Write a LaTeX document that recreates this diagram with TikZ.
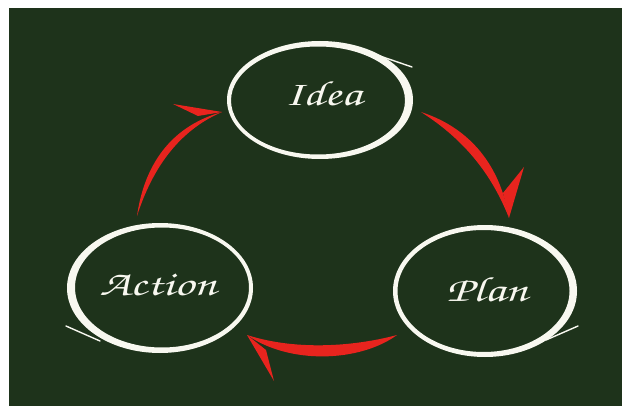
\documentclass[tikz,border=0pt]{standalone}
\usepackage[T1]{fontenc}
\usepackage{graphicx}
\definecolor{board}{RGB}{30,51,27}
\definecolor{chalk}{RGB}{248,248,240}
\definecolor{redink}{RGB}{232,36,30}
\newcommand{\chalkword}[1]{\scalebox{1.4}[1]{\fontfamily{pzc}\fontseries{mb}\fontshape{it}\fontsize{35}{38}\selectfont #1}}
\begin{document}
\begin{tikzpicture}[x=1pt,y=-1pt,
  word/.style={text=chalk,inner sep=0pt,font=\relax},
  ring/.style={fill=chalk,even odd rule},
  tailstroke/.style={draw=chalk,line width=1.4pt,line cap=round},
  redarrow/.style={fill=redink}]
\useasboundingbox (0,0) rectangle (623,406);
\fill[white] (0,0) rectangle (623,406);
\fill[board] (9,8) rectangle (622,406);

% ellipse centres
\coordinate (ideaC) at (320,100);
\coordinate (planC) at (485,291);
\coordinate (actionC) at (160,288);

% rings
\fill[ring] (ideaC) ellipse [x radius=93pt,y radius=59pt]
  ([shift={(-2,0.5)}]ideaC) ellipse [x radius=87pt,y radius=54pt];
\fill[ring] (planC) ellipse [x radius=92pt,y radius=66pt]
  ([shift={(-1.5,0)}]planC) ellipse [x radius=86pt,y radius=61pt];
\fill[ring] (actionC) ellipse [x radius=93pt,y radius=65pt]
  ([shift={(2,-0.5)}]actionC) ellipse [x radius=87pt,y radius=60pt];

% brush tails
\coordinate (it1) at (377,55); \coordinate (it2) at (412,67);
\draw[tailstroke] (it1) -- (it2);
\coordinate (pt1) at (546,340); \coordinate (pt2) at (578,326);
\draw[tailstroke] (pt1) -- (pt2);
\coordinate (at1) at (66,326); \coordinate (at2) at (100,341);
\draw[tailstroke] (at1) -- (at2);

% labels
\node[word] (idea) at (323,93) {\chalkword{Idea}};
\node[word] (plan) at (487,289) {\chalkword{Plan}};
\node[word] (action) at (158,285) {\chalkword{Action}};

% red arrows: Action -> Idea
\coordinate (r1tail) at (137,216);
\coordinate (r1tip) at (222,112);
\coordinate (r1barb) at (173,104);
\coordinate (r1join) at (198,116);
\fill[redarrow] (r1tail) .. controls (145,160) and (175,125) .. (r1tip)
  .. controls (185,128) and (155,160) .. (r1tail) -- cycle;
\fill[redarrow] (r1tip) -- (r1barb) -- (r1join) -- cycle;

% Idea -> Plan
\coordinate (r2tail) at (421,112);
\coordinate (r2tip) at (509,218);
\coordinate (r2barb) at (524,167);
\coordinate (r2join) at (503,193);
\fill[redarrow] (r2tail) .. controls (470,128) and (500,165) .. (r2tip)
  .. controls (492,175) and (465,140) .. (r2tail) -- cycle;
\fill[redarrow] (r2tip) -- (r2barb) -- (r2join) -- cycle;

% Plan -> Action
\coordinate (r3tail) at (397,335);
\coordinate (r3tip) at (247,335);
\coordinate (r3barb) at (274,381);
\coordinate (r3join) at (266,350);
\fill[redarrow] (r3tail) .. controls (360,345) and (300,352) .. (r3tip)
  .. controls (290,365) and (360,362) .. (r3tail) -- cycle;
\fill[redarrow] (r3tip) -- (r3barb) -- (r3join) -- cycle;
\end{tikzpicture}
\end{document}
